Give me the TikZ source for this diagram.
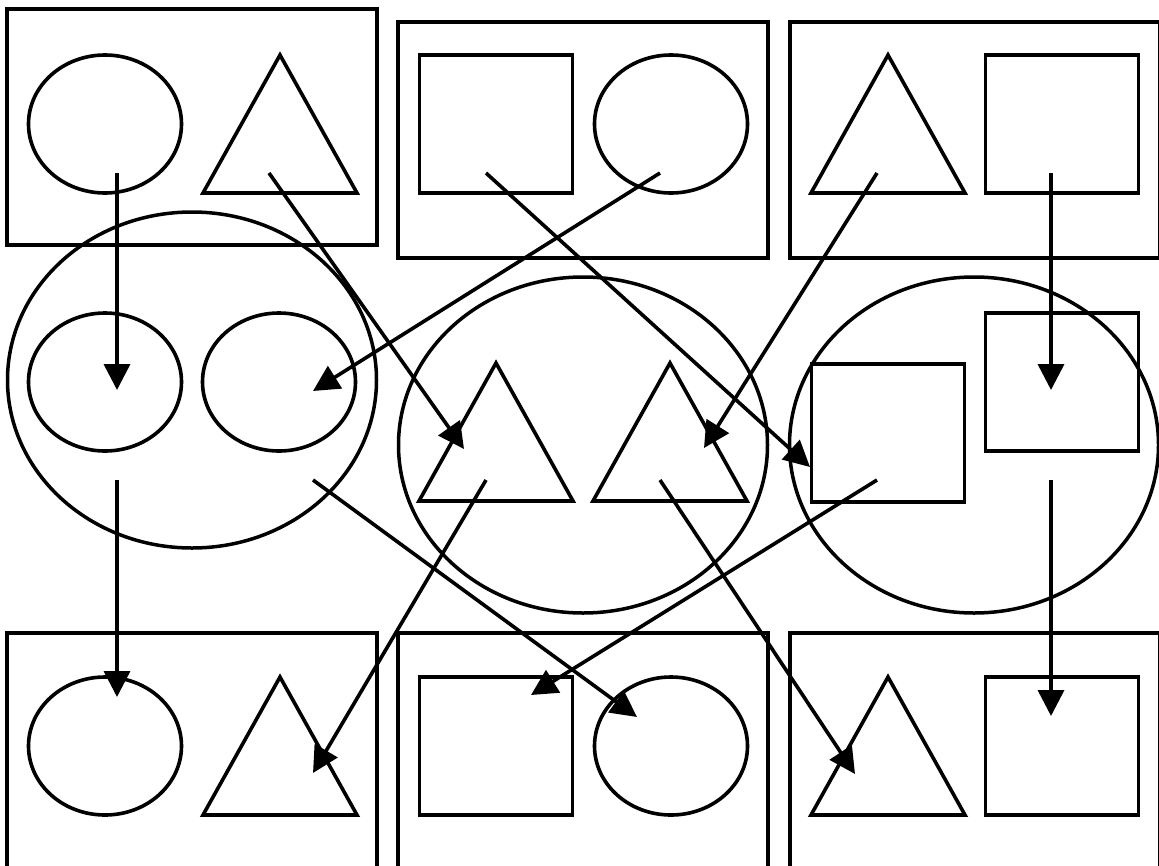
\documentclass[tikz,border=0pt]{standalone}
\usetikzlibrary{arrows.meta,shapes.geometric}
\newcommand\drawtri[1]{\draw[triline] (#1.south west) -- (#1.north) -- (#1.south east) -- cycle;}
\begin{document}
\begin{tikzpicture}[x=1pt,y=-1pt,
  frame/.style={draw,line width=4pt,minimum width=370pt,minimum height=236pt,inner sep=0pt,outer sep=0pt},
  bigell/.style={draw,ellipse,line width=3.5pt,minimum width=369pt,minimum height=336pt,inner sep=0pt,outer sep=0pt},
  circ/.style={draw,ellipse,line width=3.6pt,minimum width=153pt,minimum height=138pt,inner sep=0pt,outer sep=0pt},
  sq/.style={draw,rectangle,line width=3.6pt,minimum width=153pt,minimum height=138pt,inner sep=0pt,outer sep=0pt},
  tribox/.style={rectangle,minimum width=154pt,minimum height=138pt,inner sep=0pt,outer sep=0pt},
  triline/.style={line width=3.6pt,line join=miter},
  conn/.style={line width=3.6pt,-{Triangle[length=26pt,width=26pt]}}]
\useasboundingbox (0,0) rectangle (1159,865);
% frames
\node[frame] (ftl) at (192,127) {};
\node[frame] (ftm) at (583,140) {};
\node[frame] (ftr) at (975,140) {};
\node[frame] (fbl) at (192,751) {};
\node[frame] (fbm) at (583,751) {};
\node[frame] (fbr) at (975,751) {};
% big ellipses
\node[bigell] (eml) at (192,380) {};
\node[bigell] (emm) at (583,445) {};
\node[bigell] (emr) at (974,445) {};
% top shapes
\node[circ] (c1) at (105,124) {};
\node[tribox] (t1) at (280,124) {}; \drawtri{t1}
\node[sq] (s1) at (496,124) {};
\node[circ] (c2) at (671,124) {};
\node[tribox] (t2) at (888,124) {}; \drawtri{t2}
\node[sq] (s2) at (1062,124) {};
% middle shapes
\node[circ] (c3) at (105,382) {};
\node[circ] (c4) at (279,382) {};
\node[tribox] (t3) at (496,432) {}; \drawtri{t3}
\node[tribox] (t4) at (670,432) {}; \drawtri{t4}
\node[sq] (s3) at (888,433) {};
\node[sq] (s4) at (1062,382) {};
% bottom shapes
\node[circ] (c5) at (105,746) {};
\node[tribox] (t5) at (280,746) {}; \drawtri{t5}
\node[sq] (s5) at (496,746) {};
\node[circ] (c6) at (671,746) {};
\node[tribox] (t6) at (888,746) {}; \drawtri{t6}
\node[sq] (s6) at (1062,746) {};
% connector end points
\coordinate (a1) at (117,173); \coordinate (b1) at (117,390);
\coordinate (a2) at (269,173); \coordinate (b2) at (464,449);
\coordinate (a3) at (660,173); \coordinate (b3) at (313,391);
\coordinate (a4) at (486,173); \coordinate (b4) at (810,467);
\coordinate (a5) at (877,173); \coordinate (b5) at (704,448);
\coordinate (a6) at (1051,173); \coordinate (b6) at (1051,390);
\coordinate (a7) at (117,480); \coordinate (b7) at (117,697);
\coordinate (a8) at (486,480); \coordinate (b8) at (313,773);
\coordinate (a9) at (313,480); \coordinate (b9) at (637,717);
\coordinate (a10) at (877,480); \coordinate (b10) at (531,695);
\coordinate (a11) at (660,480); \coordinate (b11) at (855,774);
\coordinate (a12) at (1051,480); \coordinate (b12) at (1051,716);
\foreach \i in {1,...,12} {\draw[conn] (a\i) -- (b\i);}
\end{tikzpicture}
\end{document}
